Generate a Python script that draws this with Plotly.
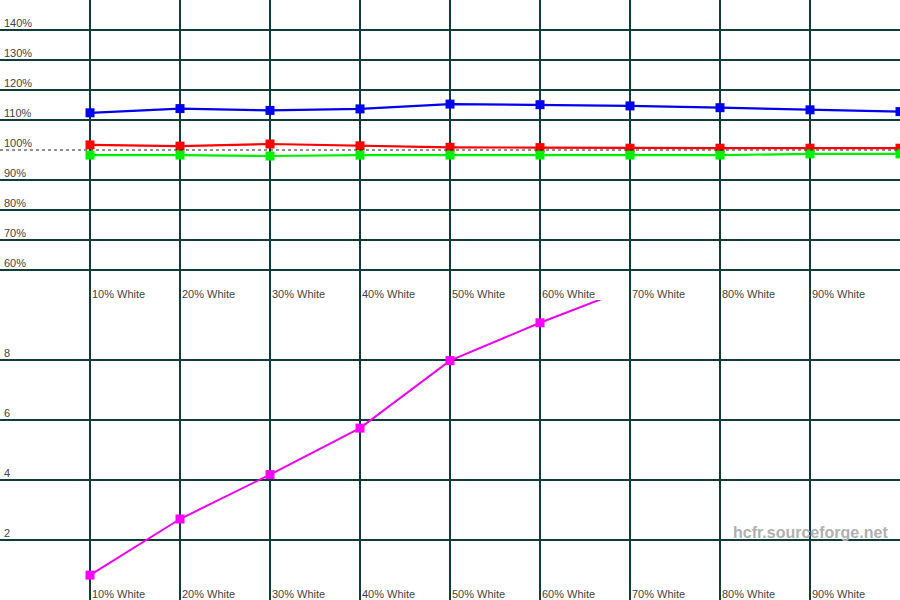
import plotly.graph_objects as go

categories = ["10% White", "20% White", "30% White", "40% White", "50% White",
              "60% White", "70% White", "80% White", "90% White", "100% White"]
positions = [1, 2, 3, 4, 5, 6, 7, 8, 9, 10]

red_pct = [101.7, 101.3, 102.0, 101.4, 100.9, 100.8, 100.6, 100.6, 100.6, 100.6]
green_pct = [98.3, 98.3, 98.0, 98.3, 98.3, 98.3, 98.3, 98.3, 98.7, 98.7]
blue_pct = [112.4, 113.8, 113.2, 113.7, 115.3, 115.1, 114.7, 114.1, 113.4, 112.8]

delta_e = [0.83, 2.7, 4.18, 5.73, 7.98, 9.24, 10.4]

top_ticks = [60, 70, 80, 90, 100, 110, 120, 130, 140]
top_tick_labels = ["60%", "70%", "80%", "90%", "100%", "110%", "120%", "130%", "140%"]
bottom_ticks = [2, 4, 6, 8]
bottom_tick_labels = ["2", "4", "6", "8"]

GRID = "#123c3c"
TXT = "#444444"
FONT = "Liberation Sans, Arial, sans-serif"

fig = go.Figure()

for vals, col in [(red_pct, "#ff0000"), (green_pct, "#00ee00"), (blue_pct, "#0000ee")]:
    fig.add_trace(go.Scatter(
        x=positions, y=vals, mode="lines+markers",
        line=dict(color=col, width=2.2),
        marker=dict(symbol="square", size=9, color=col),
        xaxis="x", yaxis="y", showlegend=False,
    ))

fig.add_trace(go.Scatter(
    x=positions[:len(delta_e)], y=delta_e, mode="lines+markers",
    line=dict(color="#ee00ee", width=2),
    marker=dict(symbol="square", size=9, color="#ff00ff"),
    xaxis="x2", yaxis="y2", showlegend=False,
))

# dashed 100% reference line
fig.add_shape(type="line", xref="paper", x0=0, x1=1, yref="y", y0=100, y1=100,
              line=dict(color="#222222", width=1, dash="3px,3px"), layer="above")

annotations = []
for v, t in zip(top_ticks, top_tick_labels):
    annotations.append(dict(xref="paper", x=0, xanchor="left", xshift=2,
                            yref="y", y=v, yanchor="bottom", yshift=-1, text=t, showarrow=False,
                            font=dict(family=FONT, size=11, color=TXT)))
for v, t in zip(bottom_ticks, bottom_tick_labels):
    annotations.append(dict(xref="paper", x=0, xanchor="left", xshift=2,
                            yref="y2", y=v, yanchor="bottom", yshift=-1, text=t, showarrow=False,
                            font=dict(family=FONT, size=11, color=TXT)))
for p, c in zip(positions[:9], categories[:9]):
    annotations.append(dict(xref="x", x=p, xanchor="left", xshift=0,
                            yref="y", y=50, yanchor="bottom", yshift=-2, text=c, showarrow=False,
                            font=dict(family=FONT, size=11, color=TXT)))
    annotations.append(dict(xref="x2", x=p, xanchor="left", xshift=0,
                            yref="y2", y=0, yanchor="bottom", yshift=-2, text=c, showarrow=False,
                            font=dict(family=FONT, size=11, color=TXT)))

annotations.append(dict(xref="paper", x=1, xanchor="right", xshift=-10,
                        yref="y2", y=2.0, yanchor="bottom", yshift=-3, text="<b>hcfr.sourceforge.net</b>",
                        showarrow=False, font=dict(family=FONT, size=16, color="#b0b0b0")))

axis_common = dict(range=[0, 10], tickvals=positions, showticklabels=False,
                   showgrid=True, gridcolor=GRID, gridwidth=2, zeroline=False,
                   showline=False, ticks="", fixedrange=True)

fig.update_layout(
    width=900, height=600,
    margin=dict(l=0, r=0, t=0, b=0),
    paper_bgcolor="white", plot_bgcolor="white",
    showlegend=False,
    xaxis=dict(domain=[0, 1], anchor="y", **axis_common),
    xaxis2=dict(domain=[0, 1], anchor="y2", **axis_common),
    yaxis=dict(domain=[0.5, 1], range=[50, 150],
               tickvals=[60, 70, 80, 90, 110, 120, 130, 140], showticklabels=False,
               showgrid=True, gridcolor=GRID, gridwidth=2, zeroline=False,
               showline=False, ticks=""),
    yaxis2=dict(domain=[0, 0.5], range=[0, 10],
                tickvals=bottom_ticks, showticklabels=False,
                showgrid=True, gridcolor=GRID, gridwidth=2, zeroline=False,
                showline=False, ticks=""),
    annotations=annotations,
)

fig.write_html(
    "out.html",
    config={"displayModeBar": False},
    post_script="document.body.style.margin='0';document.body.style.overflow='hidden';",
)
